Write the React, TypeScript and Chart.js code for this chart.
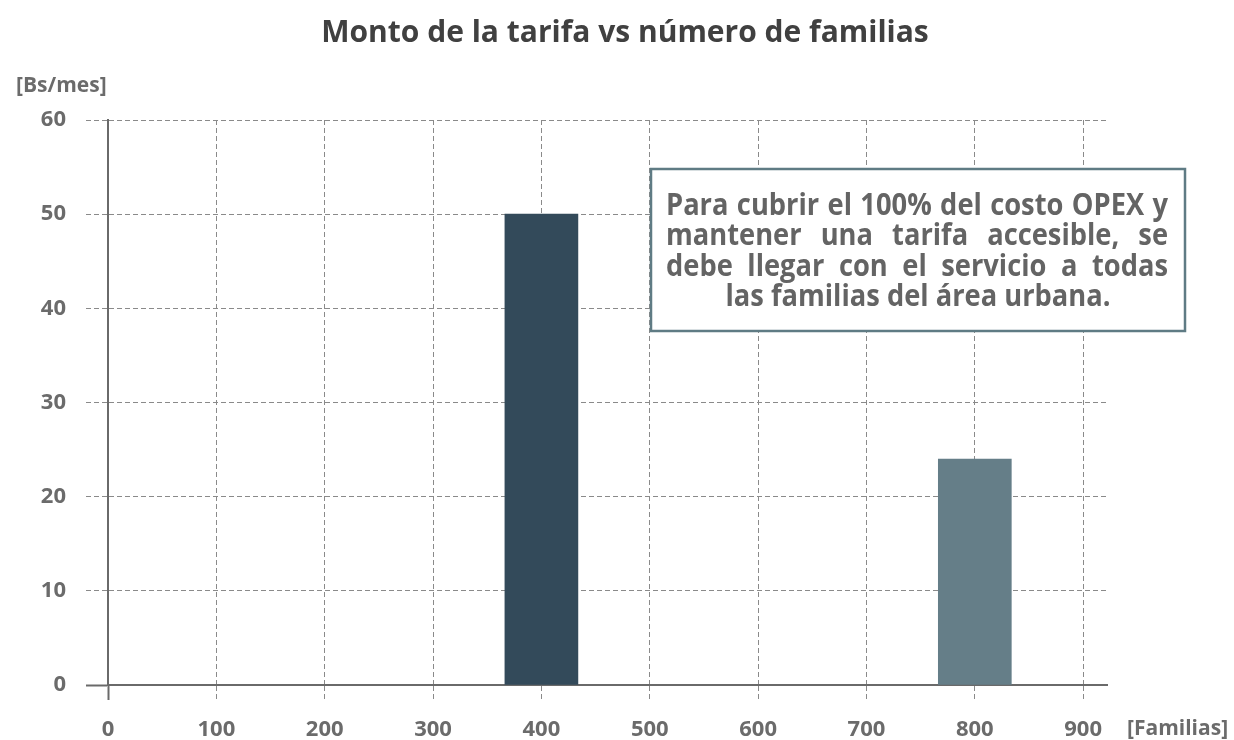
import React, { useEffect, useRef } from "react";
import { Chart, registerables } from "chart.js";

Chart.register(...registerables);

const TITLE = "Monto de la tarifa vs número de familias";
const Y_UNIT = "[Bs/mes]";
const X_UNIT = "[Familias]";

const familias = [400, 800];
const tarifas = [50, 24];
const barColors = ["#334a5a", "#657e88"];

const xTickValues = [0, 100, 200, 300, 400, 500, 600, 700, 800, 900];
const yTickValues = [0, 10, 20, 30, 40, 50, 60];

const noteLines = [
  "Para cubrir el 100% del costo OPEX y",
  "mantener una tarifa accesible, se",
  "debe llegar con el servicio a todas",
  "las familias del área urbana.",
];

const FONT = "'Open Sans', 'Noto Sans', sans-serif";
const LABEL_COLOR = "#6b6b6b";
const GRID_COLOR = "#8a8a8a";
const AXIS_COLOR = "#6a6a6a";

const overlay = {
  id: "overlay",
  afterDraw(chart: any) {
    const { ctx, chartArea } = chart;
    ctx.save();
    // title
    ctx.fillStyle = "#404040";
    ctx.font = `bold 30px ${FONT}`;
    ctx.textAlign = "center";
    ctx.textBaseline = "middle";
    ctx.fillText(TITLE, 625, 33);

    ctx.fillStyle = LABEL_COLOR;
    ctx.font = `bold 21px ${FONT}`;
    ctx.textAlign = "left";
    ctx.textBaseline = "middle";
    ctx.fillText(Y_UNIT, 16, 86);
    ctx.fillText(X_UNIT, chartArea.right + 20, 729);

    // note box
    const bx0 = chartArea.left + 543;
    const bx1 = chartArea.left + 1077;
    const by0 = chartArea.top + 49;
    const by1 = chartArea.top + 211;
    ctx.fillStyle = "#ffffff";
    ctx.fillRect(bx0, by0, bx1 - bx0, by1 - by0);
    ctx.strokeStyle = "#5f7b84";
    ctx.lineWidth = 2.5;
    ctx.strokeRect(bx0, by0, bx1 - bx0, by1 - by0);

    ctx.fillStyle = "#646464";
    ctx.font = `bold 31px ${FONT}`;
    ctx.textBaseline = "alphabetic";
    ctx.textAlign = "left";
    const k = 0.88;
    const left = bx0 + 15;
    const width = bx1 - bx0 - 32;
    const baselines = [215, 245, 276, 306];
    noteLines.forEach((line, i) => {
      const words = line.split(" ");
      const ws = words.map((w) => ctx.measureText(w).width);
      const total = ws.reduce((a, b) => a + b, 0);
      const space = ctx.measureText(" ").width;
      const natural = total + space * (words.length - 1);
      const y = baselines[i];
      ctx.save();
      if (i < noteLines.length - 1) {
        let kk = k;
        const target = width / kk;
        let gap = (target - total) / (words.length - 1);
        if (gap < space * 0.7) {
          kk = width / (total + space * 0.7 * (words.length - 1));
          gap = space * 0.7;
        }
        ctx.translate(left, y);
        ctx.scale(kk, 1);
        let x = 0;
        words.forEach((w, j) => {
          ctx.fillText(w, x, 0);
          x += ws[j] + gap;
        });
      } else {
        const cx = (bx0 + bx1) / 2;
        ctx.translate(cx, y);
        ctx.scale(k, 1);
        ctx.fillText(line, -natural / 2, 0);
      }
      ctx.restore();
    });
    ctx.restore();
  },
};

export default function App() {
  const ref = useRef<HTMLCanvasElement | null>(null);

  useEffect(() => {
    if (!ref.current) return;
    const tickFont = { family: FONT, size: 22, weight: "bold" as const };
    const chart = new Chart(ref.current, {
      type: "bar",
      data: {
        datasets: [
          {
            data: familias.map((x, i) => ({ x, y: tarifas[i] })),
            backgroundColor: barColors,
            borderWidth: 0,
            barThickness: 73,
          },
        ],
      },
      options: {
        responsive: false,
        animation: false,
        layout: { padding: { left: 0, right: 127, top: 120, bottom: 0 } },
        plugins: {
          legend: { display: false },
          tooltip: { enabled: false },
          title: { display: false },
        },
        scales: {
          x: {
            type: "linear",
            min: 0,
            max: 922,
            offset: false,
            afterBuildTicks: (scale: any) => {
              scale.ticks = xTickValues.map((v) => ({ value: v }));
            },
            afterFit: (scale: any) => {
              scale.height = 55;
            },
            grid: {
              offset: false,
              color: GRID_COLOR,
              lineWidth: 1,
              drawTicks: true,
              tickLength: 15,
              tickBorderDash: (c: any) => (c.tick && c.tick.value === 0 ? [] : [5, 3]),
              tickColor: (c: any) => (c.tick && c.tick.value === 0 ? AXIS_COLOR : GRID_COLOR),
              tickWidth: (c: any) => (c.tick && c.tick.value === 0 ? 2 : 1),
            },
            border: { display: true, color: AXIS_COLOR, width: 2, dash: [5, 3] },
            ticks: {
              color: LABEL_COLOR,
              font: tickFont,
              padding: 17,
              maxRotation: 0,
              autoSkip: false,
              callback: (v: any) => String(v),
            },
          },
          y: {
            type: "linear",
            min: 0,
            max: 60,
            afterBuildTicks: (scale: any) => {
              scale.ticks = yTickValues.map((v) => ({ value: v }));
            },
            afterFit: (scale: any) => {
              scale.width = 108;
            },
            grid: {
              color: GRID_COLOR,
              lineWidth: 1,
              drawTicks: true,
              tickLength: 22,
              tickBorderDash: (c: any) => (c.tick && c.tick.value === 0 ? [] : [5, 3]),
              tickColor: (c: any) => (c.tick && c.tick.value === 0 ? AXIS_COLOR : GRID_COLOR),
              tickWidth: (c: any) => (c.tick && c.tick.value === 0 ? 2 : 1),
            },
            border: { display: true, color: AXIS_COLOR, width: 2, dash: [5, 3] },
            ticks: {
              color: LABEL_COLOR,
              font: tickFont,
              padding: 20,
              autoSkip: false,
              callback: (v: any) => String(v),
            },
          },
        },
      },
      plugins: [overlay],
    });
    return () => chart.destroy();
  }, []);

  return (
    <div style={{ position: "fixed", left: 0, top: 0, width: 1234, height: 740, background: "#fff" }}>
      <canvas ref={ref} width={1234} height={740} style={{ display: "block" }} />
    </div>
  );
}
